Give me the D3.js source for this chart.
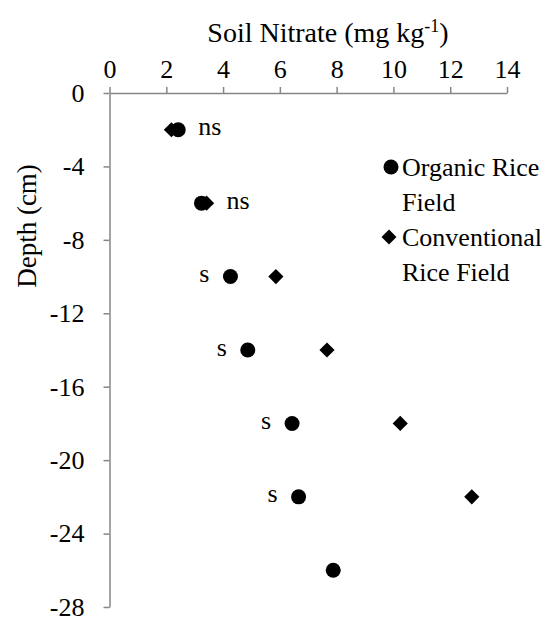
<!DOCTYPE html>
<html>
<head>
<meta charset="utf-8">
<script src="https://cdn.jsdelivr.net/npm/d3@7"></script>
<style>
  html, body { margin: 0; padding: 0; background: #fff; }
  svg { display: block; }
</style>
</head>
<body>
<script>
// ---- data ----
const depths = [-2, -6, -10, -14, -18, -22, -26];
const organic = [2.42, 3.24, 4.26, 4.87, 6.43, 6.66, 7.88];
const conventional = [2.18, 3.42, 5.86, 7.66, 10.24, 12.76, null];
const significance = ["ns", "ns", "s", "s", "s", "s", ""];
const xTicks = [0, 2, 4, 6, 8, 10, 12, 14];
const yTicks = [0, -4, -8, -12, -16, -20, -24, -28];
const legendLines = [["Organic Rice", "Field"], ["Conventional", "Rice Field"]];

const FONT = '"Liberation Serif"';
const W = 549, H = 621;
const svg = d3.select("body").append("svg").attr("width", W).attr("height", H);

const x = d3.scaleLinear().domain([0, 14]).range([109.5, 507]);
const y = d3.scaleLinear().domain([0, -28]).range([93, 607]);

const axisColor = "#868686";
const tickFont = 26;

// top x axis
const xAxis = svg.append("g").attr("transform", `translate(0,${y(0)})`)
  .call(d3.axisTop(x).tickValues(xTicks).tickSize(6).tickSizeOuter(0).tickPadding(9).tickFormat(d3.format("d")));
// left y axis
const yAxis = svg.append("g").attr("transform", `translate(${x(0)},0)`)
  .call(d3.axisLeft(y).tickValues(yTicks).tickSize(6).tickSizeOuter(0).tickPadding(19)
    .tickFormat(d => String(d)));

[xAxis, yAxis].forEach(g => {
  g.attr("font-family", null).attr("font-size", null);
  g.select(".domain").attr("stroke", axisColor).attr("stroke-width", 1.5);
  g.selectAll(".tick line").attr("stroke", axisColor).attr("stroke-width", 1.5);
  g.selectAll(".tick text").style("font-size", tickFont + "px").style("font-family", FONT).attr("fill", "#000");
});

// axis titles
const xt = svg.append("text").attr("x", 328).attr("y", 42).attr("text-anchor", "middle")
  .style("font-family", FONT).style("font-size", "28px");
xt.append("tspan").text("Soil Nitrate (mg kg");
xt.append("tspan").text("-1").style("font-size", "18px").attr("dy", -10);
xt.append("tspan").text(")").attr("dy", 10);

svg.append("text").attr("transform", `translate(36,226) rotate(-90)`)
  .attr("text-anchor", "middle").style("font-family", FONT).style("font-size", "27px").text("Depth (cm)");

// marks
const rows = depths.map((d, i) => ({ d, o: organic[i], c: conventional[i], s: significance[i] }));

svg.append("g").selectAll("path").data(rows.filter(r => r.c !== null)).join("path")
  .attr("d", d3.symbol().type(d3.symbolSquare).size(115))
  .attr("transform", r => `translate(${x(r.c)},${y(r.d)}) rotate(45)`)
  .attr("fill", "#000");

svg.append("g").selectAll("circle").data(rows).join("circle")
  .attr("cx", r => x(r.o)).attr("cy", r => y(r.d)).attr("r", 7.5).attr("fill", "#000");

// significance labels
svg.append("g").selectAll("text").data(rows.filter(r => r.s)).join("text")
  .style("font-family", FONT).style("font-size", "26px")
  .attr("dominant-baseline", "central")
  .attr("y", r => y(r.d) - 3)
  .attr("x", r => r.s === "ns" ? x(Math.max(r.o, r.c)) + 20 : x(r.o) - 21)
  .attr("text-anchor", r => r.s === "ns" ? "start" : "end")
  .text(r => r.s);

// legend
const leg = svg.append("g");
const legX = 391, legTextX = 402;
leg.append("circle").attr("cx", legX).attr("cy", 167).attr("r", 7.5).attr("fill", "#000");
leg.append("path").attr("d", d3.symbol().type(d3.symbolSquare).size(112)())
  .attr("transform", `translate(${legX - 2},237) rotate(45)`).attr("fill", "#000");
legendLines.forEach((lines, i) => {
  lines.forEach((t, j) => {
    leg.append("text").attr("x", legTextX).attr("y", 167 + i * 70 + j * 35)
      .attr("dominant-baseline", "central").style("font-family", FONT).style("font-size", "26px").text(t);
  });
});
</script>
</body>
</html>
